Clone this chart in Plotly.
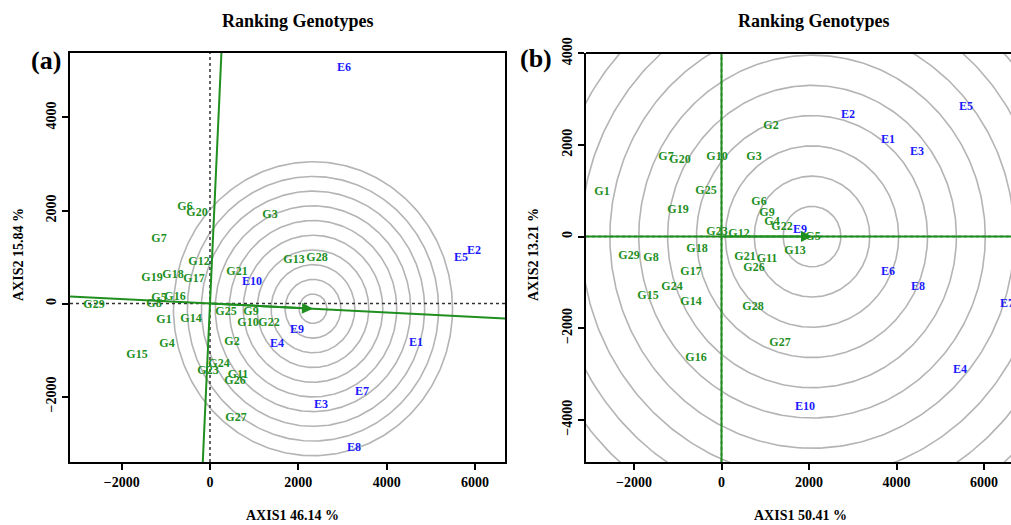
import numpy as np
import plotly.graph_objects as go

# ---------------- data ----------------
gen_names = ["G%d" % i for i in range(1, 30)]
env_names = ["E%d" % i for i in range(1, 11)]

# panel (a)
gx_a = [-1042, 498, 1359, -974, -1155, -566, -1155, -1268, 928, 861, 634, -249, 1902, -430,
        -1653, -793, -362, -838, -1313, -294, 611, 1336, -45, 204, 362, 566, 589, 2423, -2627]
gy_a = [-347, -821, 1894, -864, 127, 2067, 1377, -2, -175, -412, -1532, 903, 946, -325,
        -1101, 149, 537, 623, 558, 1937, 688, -412, -1446, -1295, -175, -1662, -2459, 989, -24]
ex_a = [4665, 5978, 2514, 1517, 5684, 3034, 3442, 3261, 1970, 951]
ey_a = [-843, 1119, -2179, -864, 989, 5063, -1899, -3106, -562, 472]
aec_a = (2332, -112)          # average environment / ideal point
ring_step_a = 316
n_rings_a = 10

# panel (b)
gx_b = [-2731, 1131, 743, 1154, 2091, 857, -1269, -1611, 1040, -103, 1040, 400, 1680, -697,
        -1680, -583, -697, -560, -994, -949, 537, 1383, -103, -1131, -354, 743, 1337, 720, -2114]
gy_b = [975, 2416, 1739, 320, -8, 757, 1739, -466, 516, 1739, -488, 58, -313, -1427,
        -1296, -2650, -772, -270, 582, 1674, -444, 211, 101, -1099, 997, -684, -2322, -1536, -423]
ex_b = [3806, 2891, 4469, 5451, 5589, 3806, 6526, 4491, 1794, 1909]
ey_b = [2110, 2656, 1848, -2911, 2831, -772, -1470, -1099, 145, -3719]
aec_b = (2069, 0)
ring_step_b = 660
n_rings_b = 13

xr_a, yr_a = [-3170, 6680], [-3407, 5386]
xr_b, yr_b = [-3097, 6617], [-4921, 4007]
xticks = [-2000, 0, 2000, 4000, 6000]
yticks_a = [-2000, 0, 2000, 4000]
yticks_b = [-4000, -2000, 0, 2000, 4000]

titles = ["Ranking Genotypes", "Ranking Genotypes"]
xlabels = ["AXIS1 46.14 %", "AXIS1 50.41 %"]
ylabels = ["AXIS2 15.84 %", "AXIS2 13.21 %"]
panel_tags = ["(a)", "(b)"]

GREEN = "#1f8f1f"
BLUE = "#1a1aff"
GREY = "#b4b4b4"
FONT = "Liberation Serif"

fig = go.Figure()

def add_panel(xa, ya, gx, gy, ex, ey, aec, step, nr, xr, yr):
    t = np.linspace(0, 2 * np.pi, 361)
    for k in range(1, nr + 1):
        r = step * k
        fig.add_trace(go.Scatter(x=aec[0] + r * np.cos(t), y=aec[1] + r * np.sin(t),
                                 mode="lines", line=dict(color=GREY, width=1.6),
                                 xaxis=xa, yaxis=ya, hoverinfo="skip", showlegend=False))
    # zero reference lines (dotted)
    fig.add_trace(go.Scatter(x=xr, y=[0, 0], mode="lines",
                             line=dict(color="#333333", width=1.5, dash="dot"),
                             xaxis=xa, yaxis=ya, hoverinfo="skip", showlegend=False))
    fig.add_trace(go.Scatter(x=[0, 0], y=yr, mode="lines",
                             line=dict(color="#333333", width=1.5, dash="dot"),
                             xaxis=xa, yaxis=ya, hoverinfo="skip", showlegend=False))
    # AEC abscissa and ordinate
    s = aec[1] / aec[0]
    fig.add_trace(go.Scatter(x=xr, y=[s * xr[0], s * xr[1]], mode="lines",
                             line=dict(color=GREEN, width=2),
                             xaxis=xa, yaxis=ya, hoverinfo="skip", showlegend=False))
    fig.add_trace(go.Scatter(x=[-s * yr[0], -s * yr[1]], y=yr, mode="lines",
                             line=dict(color=GREEN, width=2),
                             xaxis=xa, yaxis=ya, hoverinfo="skip", showlegend=False))
    fig.add_trace(go.Scatter(x=gx, y=gy, text=gen_names, mode="text",
                             textfont=dict(family=FONT, size=12, color=GREEN, weight="bold"),
                             xaxis=xa, yaxis=ya, hoverinfo="text", showlegend=False))
    fig.add_trace(go.Scatter(x=ex, y=ey, text=env_names, mode="text",
                             textfont=dict(family=FONT, size=12, color=BLUE, weight="bold"),
                             xaxis=xa, yaxis=ya, hoverinfo="text", showlegend=False))
    fig.add_annotation(x=aec[0], y=aec[1], ax=0, ay=0, xref=xa, yref=ya,
                       axref=xa, ayref=ya, text="", showarrow=True, arrowhead=2,
                       arrowsize=1.1, arrowwidth=2, arrowcolor=GREEN)

add_panel("x", "y", gx_a, gy_a, ex_a, ey_a, aec_a, ring_step_a, n_rings_a, xr_a, yr_a)
add_panel("x2", "y2", gx_b, gy_b, ex_b, ey_b, aec_b, ring_step_b, n_rings_b, xr_b, yr_b)

W, H = 1011, 525
ydom = [(525 - 462) / H, (525 - 53) / H]
tickfont = dict(family=FONT, size=14, color="black", weight="bold")
common = dict(showgrid=False, zeroline=False, ticks="outside", ticklen=6, tickwidth=1.5,
              tickcolor="black", linecolor="black", linewidth=2, showline=True,
              tickfont=tickfont, automargin=False)

fig.update_layout(
    width=W, height=H, margin=dict(l=0, r=0, t=0, b=0, autoexpand=False),
    plot_bgcolor="white", paper_bgcolor="white", showlegend=False,
    xaxis=dict(domain=[70 / W, 505 / W], range=xr_a, tickvals=xticks, anchor="y",
               mirror=True, **common),
    yaxis=dict(domain=ydom, range=yr_a, tickvals=yticks_a, anchor="x", tickangle=-90,
               mirror=True, **common),
    xaxis2=dict(domain=[586 / W, 1.0], range=xr_b, tickvals=xticks, anchor="y2", **common),
    yaxis2=dict(domain=ydom, range=yr_b, tickvals=yticks_b, anchor="x2", tickangle=-90,
                **common),
)

fig.add_shape(type="line", xref="x2 domain", yref="y2 domain", x0=0, x1=1, y0=1, y1=1,
              line=dict(color="black", width=2))

tfont = dict(family=FONT, size=18, color="black", weight="bold")
lfont = dict(family=FONT, size=14, color="black", weight="bold")
pfont = dict(family=FONT, size=26, color="black", weight="bold")
for cx, txt in zip([298, 814], titles):
    fig.add_annotation(x=cx / W, y=1 - 21 / H, xref="paper", yref="paper", text=txt,
                       showarrow=False, font=tfont, xanchor="center", yanchor="middle")
for cx, txt in zip([292, 800], xlabels):
    fig.add_annotation(x=cx / W, y=1 - 515 / H, xref="paper", yref="paper", text=txt,
                       showarrow=False, font=lfont, xanchor="center", yanchor="middle")
for cx, txt in zip([18, 533], ylabels):
    fig.add_annotation(x=cx / W, y=1 - 255 / H, xref="paper", yref="paper", text=txt,
                       showarrow=False, font=lfont, textangle=-90,
                       xanchor="center", yanchor="middle")
for cx, cy, txt in zip([46, 536], [60, 58], panel_tags):
    fig.add_annotation(x=cx / W, y=1 - cy / H, xref="paper", yref="paper", text=txt,
                       showarrow=False, font=pfont, xanchor="center", yanchor="middle")

fig.write_html("out.html")
